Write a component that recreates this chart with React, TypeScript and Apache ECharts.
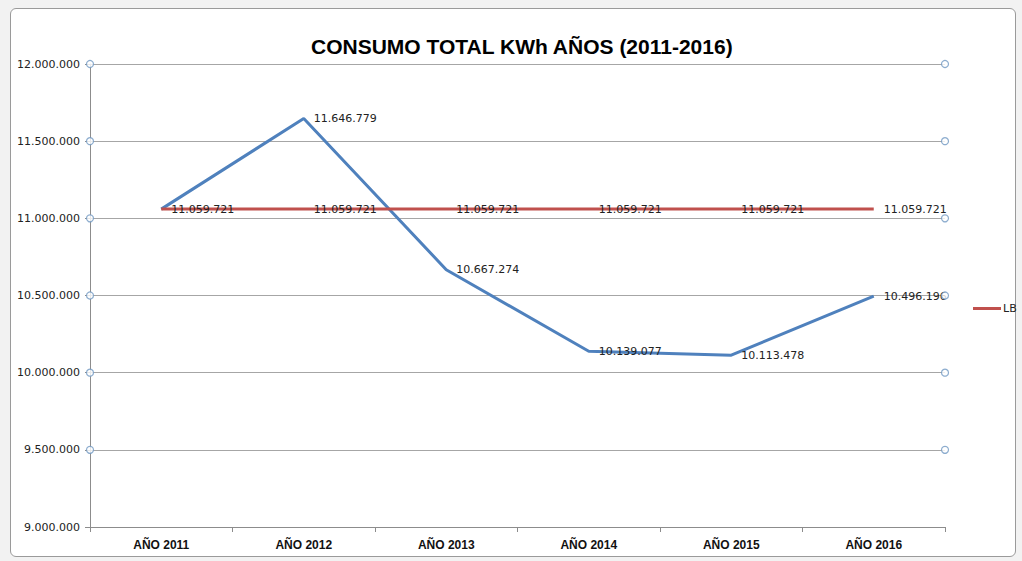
import React, { useEffect, useRef } from "react";
import * as echarts from "echarts";

const categories = ["AÑO 2011", "AÑO 2012", "AÑO 2013", "AÑO 2014", "AÑO 2015", "AÑO 2016"];
const consumo = [11059721, 11646779, 10667274, 10139077, 10113478, 10496196];
const lb = [11059721, 11059721, 11059721, 11059721, 11059721, 11059721];
const handleTicks = [9500000, 10000000, 10500000, 11000000, 11500000, 12000000];

const fmt = (v: number) => String(Math.round(v)).replace(/\B(?=(\d{3})+(?!\d))/g, ".");

export default function App() {
  const ref = useRef<HTMLDivElement>(null);
  useEffect(() => {
    if (!ref.current) return;
    const chart = echarts.init(ref.current, undefined, { renderer: "svg" });
    const labelStyle = {
      show: true,
      position: "right" as const,
      distance: 10,
      fontFamily: "DejaVu Sans",
      fontSize: 11,
      color: "#222",
      formatter: (p: any) => fmt(p.value),
    };
    const handleData: number[][] = [];
    handleTicks.forEach((t) => {
      handleData.push([0, t]);
      handleData.push([1, t]);
    });
    chart.setOption({
      animation: false,
      backgroundColor: "transparent",
      title: {
        text: "CONSUMO TOTAL KWh AÑOS (2011-2016)",
        left: 306,
        top: 31,
        textStyle: { fontFamily: "Liberation Sans", fontWeight: "bold", fontSize: 21, color: "#000" },
      },
      legend: {
        data: [{ name: "LB", icon: "rect" }],
        orient: "vertical",
        left: 968,
        top: 298,
        itemWidth: 28,
        itemHeight: 3,
        itemGap: 4,
        textStyle: { fontFamily: "DejaVu Sans", fontSize: 11, color: "#222", padding: [0, 0, 0, -3] },
      },
      grid: { left: 90, right: 77, top: 64, bottom: 34 },
      xAxis: [
        {
          type: "category",
          data: categories,
          boundaryGap: true,
          axisLine: { lineStyle: { color: "#8c8c8c" } },
          axisTick: { show: true, length: 5, inside: false, lineStyle: { color: "#8c8c8c" } },
          axisLabel: { fontFamily: "Liberation Sans", fontWeight: "bold", fontSize: 12, color: "#111", margin: 12 },
        },
        { type: "value", min: 0, max: 1, show: false },
      ],
      yAxis: {
        type: "value",
        min: 9000000,
        max: 12000000,
        interval: 500000,
        axisLine: { show: true, lineStyle: { color: "#8c8c8c" } },
        axisTick: { show: true, length: 5, lineStyle: { color: "#8c8c8c" } },
        splitLine: { lineStyle: { color: "#a6a6a6" } },
        axisLabel: { fontFamily: "DejaVu Sans", fontSize: 11, color: "#222", margin: 10, formatter: (v: number) => fmt(v) },
      },
      series: [
        {
          name: "CONSUMO",
          type: "line",
          data: consumo,
          symbol: "circle",
          symbolSize: 0,
          showSymbol: true,
          lineStyle: { color: "#4f81bd", width: 3 },
          itemStyle: { color: "#4f81bd" },
          label: { ...labelStyle, formatter: (p: any) => (p.dataIndex === 0 ? "" : fmt(p.value)) },
          z: 3,
        },
        {
          name: "LB",
          type: "line",
          data: lb,
          symbol: "circle",
          symbolSize: 0,
          showSymbol: true,
          lineStyle: { color: "#c0504d", width: 3 },
          itemStyle: { color: "#c0504d" },
          label: labelStyle,
          z: 4,
        },
        {
          name: "handles",
          type: "scatter",
          xAxisIndex: 1,
          data: handleData,
          symbol: "circle",
          symbolSize: 7,
          itemStyle: { color: "#ffffff", borderColor: "#6f97c2", borderWidth: 1.2 },
          silent: true,
          z: 5,
        },
      ],
    });
    return () => chart.dispose();
  }, []);
  return (
    <div style={{ position: "fixed", left: 0, top: 0, width: 1022, height: 561, background: "#f2f2f2" }}>
      <div
        style={{
          position: "absolute",
          left: 10,
          top: 8,
          width: 1004,
          height: 547,
          background: "#fff",
          border: "1px solid #9a9a9a",
          borderRadius: 6,
        }}
      />
      <div ref={ref} style={{ position: "absolute", left: 0, top: 0, width: 1022, height: 561 }} />
    </div>
  );
}
